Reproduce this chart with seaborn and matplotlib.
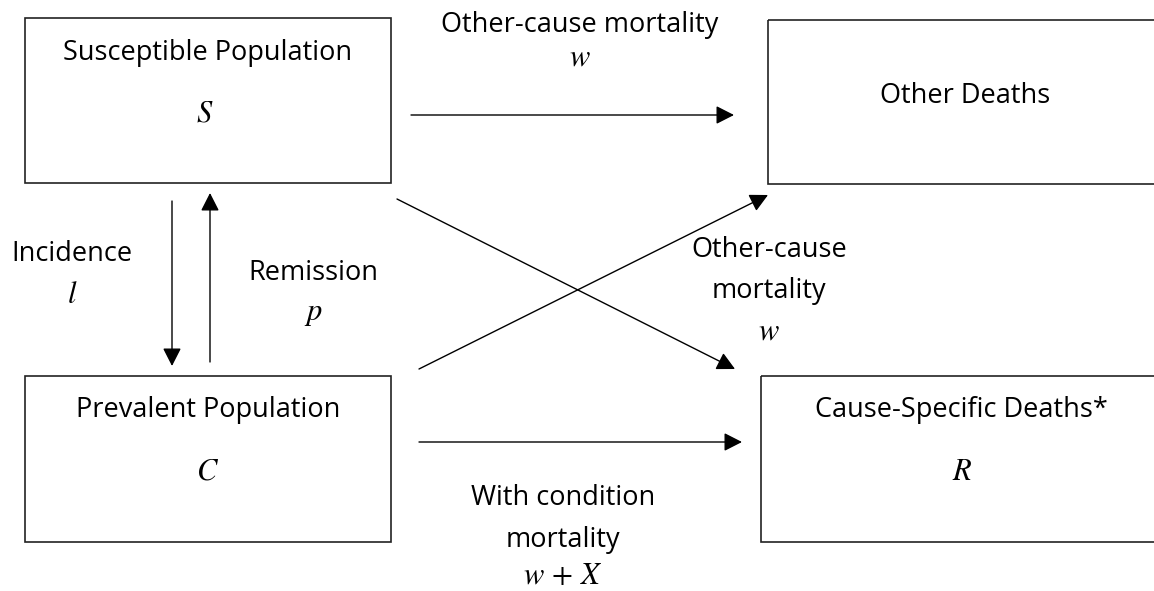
'''
Flow diagram of the susceptible / prevalent population model
'''

import seaborn           as sns
import matplotlib.pyplot as plt
from matplotlib.patches import Rectangle

# ----------------------
# Content
# ----------------------
box_labels   = ['Susceptible Population', 'Other Deaths', 'Prevalent Population', 'Cause-Specific Deaths*']
box_symbols  = [r'$S$', '', r'$C$', r'$R$']

flow_lines   = [
    ['Other-cause mortality', r'$w$'],
    ['Incidence', r'$l$'],
    ['Remission', r'$p$'],
    ['Other-cause', 'mortality', r'$w$'],
    ['With condition', 'mortality', r'$w\,+\,X$'],
]

# ----------------------
# Layout (pixels, y grows downward)
# ----------------------
W, H = 1154, 591

box_rect     = [(25, 18, 366, 165), (768, 20, 402, 164), (25, 376, 366, 166), (761, 376, 409, 166)]
box_text_pos = [(208, 60, 205, 122), (965, 103, None, None), (208, 417, 208, 480), (961, 417, 962, 480)]

flow_x       = [580, 72, 313, 769, 563]
flow_base    = [[32, 66], [261, 303], [280, 320], [257, 298, 340], [505, 547, 584]]

arrows       = [
    ((411, 115), (734, 115)),
    ((172, 201), (172, 366)),
    ((210, 362), (210, 193)),
    ((397, 199), (735, 369)),
    ((419, 369), (768, 195)),
    ((419, 442), (742, 442)),
]
# ----------------------
def _initialize() -> None:
    sns.set_theme(style='white')
    plt.rcParams['font.family']      = ['Open Sans', 'DejaVu Sans']
    plt.rcParams['mathtext.fontset'] = 'stix'
# ----------------------
def _text(ax, x : float, y : float, txt : str) -> None:
    size = 22 if txt.startswith('$') else 19.5
    ax.text(x, y, txt, ha='center', va='baseline', fontsize=size, color='black')
# ----------------------
def main():
    _initialize()

    fig = plt.figure(figsize=(W / 100, H / 100), dpi=100)
    ax  = fig.add_axes([0, 0, 1, 1])
    ax.set_xlim(0, W)
    ax.set_ylim(H, 0)
    ax.axis('off')

    for (x, y, w, h), label, symbol, (tx, ty, sx, sy) in zip(box_rect, box_labels, box_symbols, box_text_pos):
        ax.add_patch(Rectangle((x, y), w, h, fill=False, edgecolor='#222222', lw=1.2))
        _text(ax, tx, ty, label)
        if symbol:
            _text(ax, sx, sy, symbol)

    for lines, x, bases in zip(flow_lines, flow_x, flow_base):
        for line, y in zip(lines, bases):
            _text(ax, x, y, line)

    style = '-|>,head_length=0.55,head_width=0.28'
    for start, end in arrows:
        ax.annotate('', xy=end, xytext=start,
                    arrowprops=dict(arrowstyle=style, color='black', lw=1.0,
                                    mutation_scale=20, shrinkA=0, shrinkB=0))

    sns.despine(ax=ax, left=True, bottom=True)
    fig.savefig('out.png', dpi=100, facecolor='white')
    plt.close(fig)
# ----------------------
if __name__ == '__main__':
    main()
